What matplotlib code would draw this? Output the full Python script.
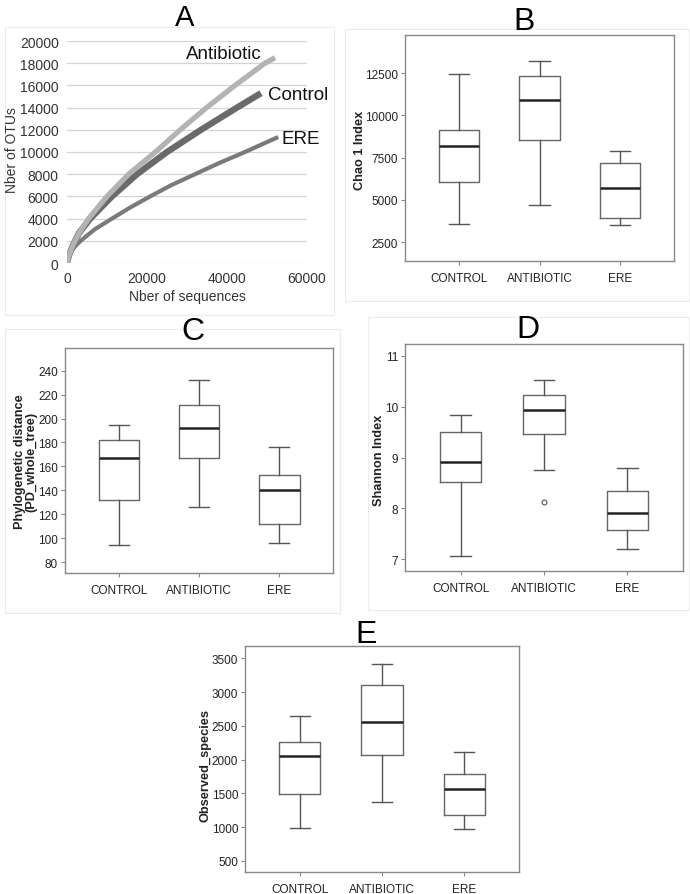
import matplotlib
matplotlib.use("Agg")
import matplotlib.pyplot as plt
from matplotlib.patches import Rectangle

plt.rcParams['font.family'] = ['Liberation Sans', 'DejaVu Sans']

W, H = 690, 895

# ---------------- Data ----------------
# Panel A: rarefaction curves
seq_antibiotic = [0, 500, 1500, 3000, 5400, 10000, 15400, 22100, 28300, 34900, 42000, 49500, 52000]
otu_antibiotic = [0, 700, 1600, 2700, 4000, 6000, 8000, 10000, 12000, 14000, 16000, 18000, 18500]
seq_control = [0, 500, 1500, 3000, 5800, 11250, 17500, 25000, 33500, 42500, 48500]
otu_control = [0, 700, 1600, 2700, 4000, 6000, 8000, 10000, 12000, 14000, 15300]
seq_ere = [0, 400, 1200, 2400, 3750, 7000, 11250, 15800, 20800, 26000, 32000, 38000, 44500, 52800]
otu_ere = [0, 600, 1150, 1650, 2100, 3050, 4000, 5000, 6000, 7000, 8000, 9000, 10000, 11350]

groups = ['CONTROL', 'ANTIBIOTIC', 'ERE']

# Box stats: [whislo, q1, med, q3, whishi]
chao1 = [[3580, 6080, 8160, 9110, 12420],
         [4720, 8560, 10880, 12300, 13190],
         [3520, 3930, 5710, 7160, 7900]]
pd_tree = [[94.2, 131.8, 167.0, 182.0, 194.8],
           [125.7, 166.7, 192.3, 211.0, 232.2],
           [95.9, 111.5, 140.2, 152.5, 175.9]]
shannon = [[7.07, 8.515, 8.92, 9.505, 9.84],
           [8.76, 9.455, 9.94, 10.233, 10.515],
           [7.197, 7.58, 7.91, 8.335, 8.80]]
shannon_fliers = [[], [8.12], []]
observed = [[988, 1486, 2054, 2261, 2651],
            [1373, 2064, 2562, 3105, 3411],
            [968, 1180, 1570, 1785, 2115]]

fig = plt.figure(figsize=(W / 100, H / 100), dpi=100)
fig.patch.set_facecolor('white')


def axes_px(x0, y0, x1, y1):
    return fig.add_axes([x0 / W, 1 - y1 / H, (x1 - x0) / W, (y1 - y0) / H])


def ftext(x, y, s, **kw):
    fig.text(x / W, 1 - y / H, s, **kw)


# faint panel borders
for (x0, y0, x1, y1) in [(5, 28, 334, 316), (345, 30, 689, 302),
                         (5, 330, 340, 614), (368, 318, 689, 611)]:
    fig.patches.append(Rectangle((x0 / W, 1 - y1 / H), (x1 - x0) / W, (y1 - y0) / H,
                                 transform=fig.transFigure, fill=False,
                                 edgecolor='#ececec', linewidth=0.8))

# ---------------- Panel A ----------------
axA = axes_px(67, 42, 307, 264)
axA.set_xlim(0, 60000)
axA.set_ylim(0, 20000)
axA.set_xticks([0, 20000, 40000, 60000])
axA.set_yticks(range(0, 20001, 2000))
axA.grid(axis='y', color='#d4d4d4', linewidth=0.9)
axA.set_axisbelow(True)
for s in axA.spines.values():
    s.set_visible(False)
axA.tick_params(length=0, labelsize=10, colors='#333333', pad=6)
axA.plot(seq_ere, otu_ere, color='#7a7a7a', lw=3.0, solid_capstyle='butt', solid_joinstyle='round')
axA.plot(seq_control, otu_control, color='#6a6a6a', lw=4.6, solid_capstyle='butt', solid_joinstyle='round')
axA.plot(seq_antibiotic, otu_antibiotic, color='#b3b3b3', lw=3.8, solid_capstyle='butt', solid_joinstyle='round')
axA.text(48750, 18830, 'Antibiotic', fontsize=13.5, ha='right', va='center', color='#111111')
axA.text(50250, 15225, 'Control', fontsize=13.5, ha='left', va='center', color='#111111')
axA.text(53600, 11260, 'ERE', fontsize=13.5, ha='left', va='center', color='#111111')
ftext(185, 18, 'A', fontsize=21, ha='center', va='center')
ftext(12, 150, 'Nber of OTUs', fontsize=10, rotation=90, ha='center', va='center', color='#333333')
ftext(187, 297, 'Nber of sequences', fontsize=10, ha='center', va='center', color='#333333')


# ---------------- Box panels ----------------
def box_panel(rect, data, ylim, yticks, ylabel, label_xy, letter, letter_xy, fliers=None):
    ax = axes_px(*rect)
    stats = []
    for i, d in enumerate(data):
        stats.append(dict(whislo=d[0], q1=d[1], med=d[2], q3=d[3], whishi=d[4],
                          fliers=(fliers[i] if fliers else []), label=groups[i]))
    ax.bxp(stats, positions=[1, 2, 3], widths=0.5, showfliers=True,
           boxprops=dict(color='#666666', linewidth=1.0),
           whiskerprops=dict(color='#555555', linewidth=1.0),
           capprops=dict(color='#555555', linewidth=1.0),
           medianprops=dict(color='#222222', linewidth=1.8),
           flierprops=dict(marker='o', markersize=3.5, markerfacecolor='white',
                           markeredgecolor='#555555', markeredgewidth=0.8),
           capwidths=0.25)
    ax.set_xlim(1 - 2 / 3, 3 + 2 / 3)
    ax.set_ylim(*ylim)
    ax.set_yticks(yticks)
    ax.set_xticks([1, 2, 3])
    ax.set_xticklabels(groups)
    for s in ax.spines.values():
        s.set_color('#888888')
        s.set_linewidth(1.0)
    ax.tick_params(length=3, width=0.8, color='#888888', labelsize=8.5,
                   labelcolor='#222222', pad=2)
    ax.tick_params(axis='x', pad=5)
    ftext(label_xy[0], label_xy[1], ylabel, fontsize=9.2, fontweight='bold', rotation=90,
          ha='center', va='center', color='#222222', linespacing=0.95)
    ftext(letter_xy[0], letter_xy[1], letter, fontsize=23, ha='center', va='center')
    return ax


box_panel((405, 36, 674, 262), chao1, (1380, 14750), [2500, 5000, 7500, 10000, 12500],
          'Chao 1 Index', (360, 150), 'B', (524, 22))
box_panel((65, 349, 333, 574), pd_tree, (70.8, 259), list(range(80, 241, 20)),
          'Phylogenetic distance\n(PD_whole_tree)', (26, 462), 'C', (193, 332))
box_panel((405, 345, 683, 572), shannon, (6.77, 11.23), [7, 8, 9, 10, 11],
          'Shannon Index', (379, 460), 'D', (528, 330), fliers=shannon_fliers)
box_panel((245, 647, 519, 873), observed, (337, 3683), [500, 1000, 1500, 2000, 2500, 3000, 3500],
          'Observed_species', (205, 765), 'E', (366, 635))

fig.savefig('out.png', dpi=100, facecolor='white')
